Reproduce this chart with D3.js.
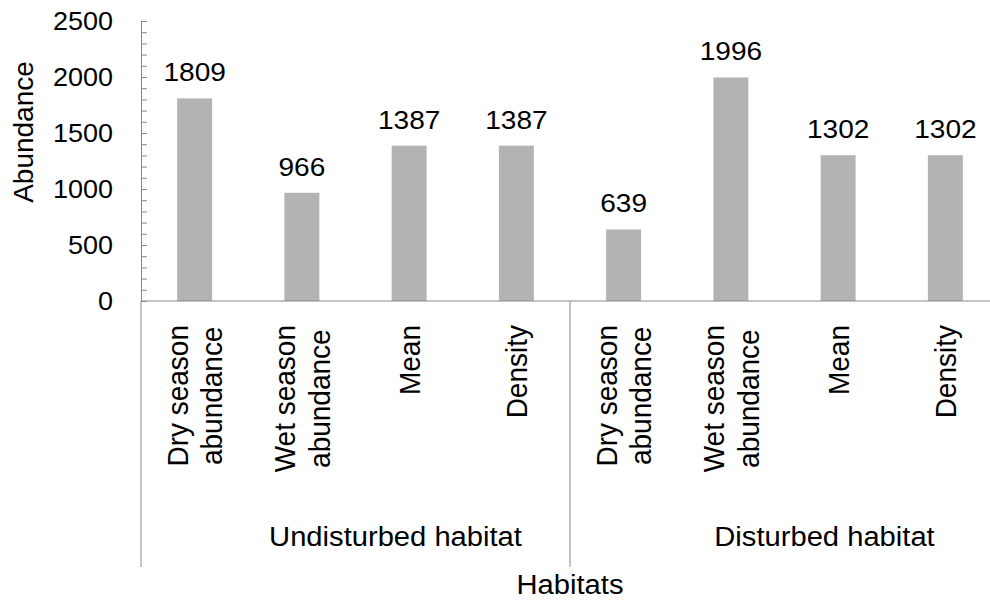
<!DOCTYPE html>
<html>
<head>
<meta charset="utf-8">
<script src="https://cdn.jsdelivr.net/npm/d3@7"></script>
<style>
  html, body { margin: 0; padding: 0; background: #fff; }
  svg { display: block; font-family: "Liberation Sans", Arial, sans-serif; }
</style>
</head>
<body>
<svg id="chart" width="990" height="600"></svg>
<script>
// Abundance per habitat: two habitat groups, four measures each
const groups = ["Undisturbed habitat", "Disturbed habitat"];
const categoryLabels = [
  ["Dry season", "abundance"],
  ["Wet season", "abundance"],
  ["Mean"],
  ["Density"],
  ["Dry season", "abundance"],
  ["Wet season", "abundance"],
  ["Mean"],
  ["Density"]
];
const values = [1809, 966, 1387, 1387, 639, 1996, 1302, 1302];
const yTicks = [0, 500, 1000, 1500, 2000, 2500];
const yMinorTicks = d3.range(0, 2501, 100);
const yTitle = "Abundance";
const xTitle = "Habitats";

(function draw() {
  const svg = d3.select("#chart");
  const plotLeft = 141, plotRight = 999, plotTop = 21, plotBase = 301, catBottom = 567;
  const axisColor = "#888888";
  const barColor = "#b3b3b3";
  const sx = 1.08; // horizontal glyph stretch for horizontal labels

  const idx = d3.range(values.length);
  const x = d3.scaleBand()
    .domain(idx)
    .range([plotLeft, plotRight])
    .paddingInner(0.674)
    .paddingOuter(0.337);
  const y = d3.scaleLinear().domain([0, 2500]).range([plotBase, plotTop]);
  const step = x.step();
  const cellStart = i => x(i) - (step - x.bandwidth()) / 2;
  const perGroup = values.length / groups.length;

  // Bars
  svg.append("g").selectAll("rect")
    .data(values)
    .join("rect")
    .attr("x", (d, i) => x(i))
    .attr("y", d => y(d))
    .attr("width", x.bandwidth())
    .attr("height", d => y(0) - y(d))
    .attr("fill", barColor);

  // Value labels
  svg.append("g").selectAll("text")
    .data(values)
    .join("text")
    .attr("transform", (d, i) => `translate(${x(i) + x.bandwidth() / 2},${y(d) - 17}) scale(${sx},1)`)
    .attr("text-anchor", "middle")
    .attr("font-size", 26)
    .attr("fill", "#000")
    .text(d => d);

  // Y axis: minor ticks, then major ticks with labels
  const gMinor = svg.append("g").attr("transform", `translate(${plotLeft},0)`)
    .call(d3.axisLeft(y).tickValues(yMinorTicks).tickSizeInner(-6).tickSizeOuter(0).tickFormat(""));
  gMinor.select(".domain").attr("stroke", axisColor);
  gMinor.selectAll(".tick line").attr("stroke", axisColor);

  const gMajor = svg.append("g").attr("transform", `translate(${plotLeft},0)`)
    .call(d3.axisLeft(y).tickValues(yTicks).tickFormat(d3.format("d"))
      .tickSizeInner(-6).tickSizeOuter(0).tickPadding(28));
  gMajor.select(".domain").remove();
  gMajor.selectAll(".tick line").attr("stroke", axisColor);
  gMajor.selectAll(".tick text")
    .attr("font-family", "Liberation Sans, Arial, sans-serif")
    .attr("font-size", 25)
    .attr("fill", "#000")
    .attr("dy", "0.34em")
    .attr("transform", function () {
      const xx = +d3.select(this).attr("x");
      return `translate(${xx},0) scale(${sx},1)`;
    })
    .attr("x", 0);

  // X axis line and group dividers
  svg.append("line")
    .attr("x1", plotLeft).attr("x2", plotRight)
    .attr("y1", y(0)).attr("y2", y(0))
    .attr("stroke", axisColor);
  const dividers = d3.range(groups.length + 1).map(g => g === groups.length ? plotRight : cellStart(g * perGroup));
  svg.append("g").selectAll("line")
    .data(dividers)
    .join("line")
    .attr("x1", d => d).attr("x2", d => d)
    .attr("y1", y(0)).attr("y2", catBottom)
    .attr("stroke", axisColor);

  // Category labels (rotated, centred as a block under each bar)
  const labelTop = y(0) + 24;
  const lineGap = 34.7;
  const catG = svg.append("g");
  categoryLabels.forEach((lines, i) => {
    const cx = x(i) + x.bandwidth() / 2;
    const texts = lines.map((ln, j) => {
      const off = 10.5 + (j - (lines.length - 1) / 2) * lineGap;
      return catG.append("text")
        .attr("font-size", 28)
        .attr("fill", "#000")
        .attr("text-anchor", "middle")
        .attr("data-off", off)
        .text(ln);
    });
    const blockLen = d3.max(texts, t => t.node().getComputedTextLength());
    texts.forEach(t => {
      const off = +t.attr("data-off");
      t.attr("transform", `translate(${cx + off},${labelTop + blockLen / 2}) scale(1.05,1) rotate(-90)`);
    });
  });

  // Group labels
  svg.append("g").selectAll("text")
    .data(groups)
    .join("text")
    .attr("transform", (d, g) => {
      const end = g === groups.length - 1 ? plotRight : cellStart((g + 1) * perGroup);
      const c = (cellStart(g * perGroup) + end) / 2;
      return `translate(${c + 40},546) scale(${sx},1)`;
    })
    .attr("text-anchor", "middle")
    .attr("font-size", 27)
    .attr("fill", "#000")
    .text(d => d);

  // Axis titles
  svg.append("text")
    .attr("transform", `translate(${(plotLeft + plotRight) / 2},594) scale(${sx},1)`)
    .attr("text-anchor", "middle")
    .attr("font-size", 27)
    .attr("fill", "#000")
    .text(xTitle);

  svg.append("text")
    .attr("transform", `translate(33,132) rotate(-90)`)
    .attr("text-anchor", "middle")
    .attr("font-size", 28)
    .attr("fill", "#000")
    .text(yTitle);
})();
</script>
</body>
</html>
